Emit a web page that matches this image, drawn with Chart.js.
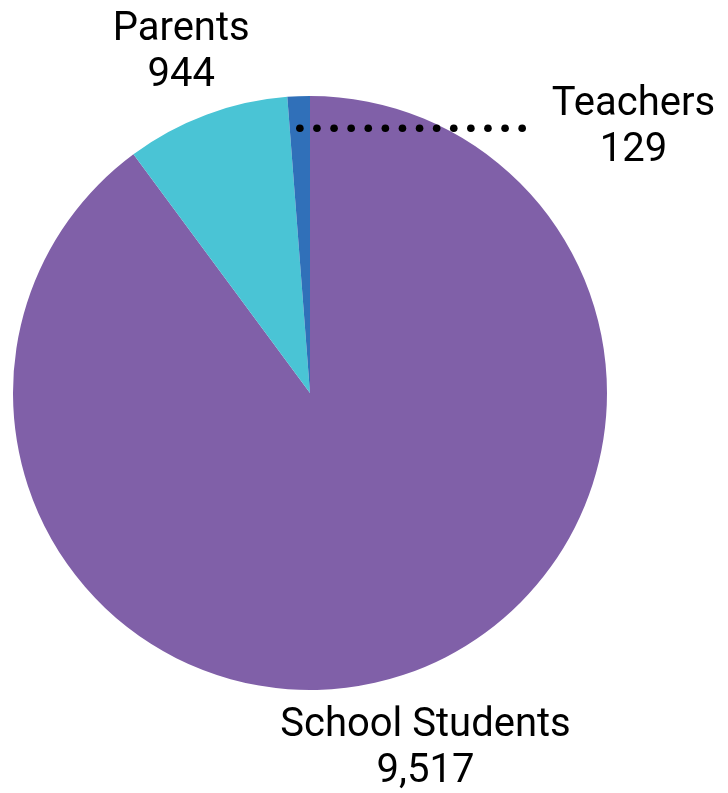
<!DOCTYPE html>
<html>
<head>
<meta charset="utf-8">
<script src="https://cdn.jsdelivr.net/npm/chart.js@4"></script>
<style>
  html, body { margin: 0; padding: 0; background: #fff; }
  #wrap { width: 728px; height: 793px; position: relative; }
</style>
</head>
<body>
<div id="wrap"><canvas id="audience"></canvas></div>
<script>
const categories = ['School Students', 'Parents', 'Teachers'];
const counts = [9517, 944, 129];
const sliceColors = ['#8060a8', '#4ac4d5', '#3070b9'];

const FONT = '40px Roboto';
const LINE_H = 46;

// draws the outside labels, teachers gets a dotted leader line
const pieLabels = {
    id: 'pieLabels',
    afterDraw(chart) {
        const ctx = chart.ctx;
        const arcs = chart.getDatasetMeta(0).data;
        ctx.save();
        ctx.font = FONT;
        ctx.fillStyle = '#000';
        ctx.textBaseline = 'middle';

        arcs.forEach((arc, i) => {
            const mid = (arc.startAngle + arc.endAngle) / 2;
            const lines = [categories[i], counts[i].toLocaleString('en-US')];

            if (categories[i] == 'Teachers') {
                const r0 = arc.outerRadius - 32;
                const sx = arc.x + Math.cos(mid) * r0;
                const sy = arc.y + Math.sin(mid) * r0;
                const ex = sx + 222;
                for (let x = sx; x <= ex + 0.5; x += 17.1) {
                    ctx.beginPath();
                    ctx.arc(x, sy, 3.8, 0, Math.PI * 2);
                    ctx.fill();
                }
                ctx.textAlign = 'center';
                const w = Math.max(...lines.map(t => ctx.measureText(t).width));
                const cx = ex + 30 + w / 2;
                ctx.fillText(lines[0], cx, sy - LINE_H / 2);
                ctx.fillText(lines[1], cx, sy + LINE_H / 2);
                return;
            }

            const r = arc.outerRadius + 72;
            const cx = arc.x + Math.cos(mid) * r;
            const cy = arc.y + Math.sin(mid) * r + 6;
            ctx.textAlign = 'center';
            ctx.fillText(lines[0], cx, cy - LINE_H / 2);
            ctx.fillText(lines[1], cx, cy + LINE_H / 2);
        });
        ctx.restore();
    }
};

new Chart(document.getElementById('audience'), {
    type: 'pie',
    data: {
        labels: categories,
        datasets: [{
            data: counts,
            backgroundColor: sliceColors,
            borderWidth: 0
        }]
    },
    options: {
        responsive: true,
        maintainAspectRatio: false,
        animation: false,
        layout: { padding: { left: 13, right: 121, top: 96, bottom: 103 } },
        plugins: {
            legend: { display: false },
            tooltip: { enabled: false }
        }
    },
    plugins: [pieLabels]
});
</script>
</body>
</html>
